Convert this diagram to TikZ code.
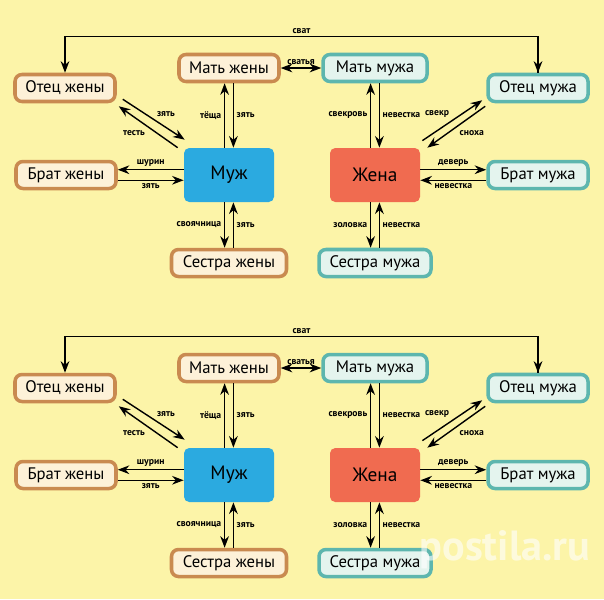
\documentclass[tikz,border=0pt]{standalone}
\usepackage{fontspec}
\setmainfont{PT Sans}
\usetikzlibrary{arrows.meta}
\tikzset{>=Stealth}
\definecolor{bg}{HTML}{FCF4A8}
\definecolor{brownline}{HTML}{C98A50}
\definecolor{brownfill}{HTML}{FDF1D8}
\definecolor{tealline}{HTML}{5DB6AE}
\definecolor{tealfill}{HTML}{E4F4EE}
\definecolor{husband}{HTML}{2BAAE0}
\definecolor{wife}{HTML}{F06B50}
\tikzset{
  wifeside/.style={draw=brownline,fill=brownfill,line width=2pt,rounded corners=4pt,
    minimum width=100*0.02cm,minimum height=27*0.02cm,font=\fontsize{9.5}{10}\selectfont},
  husbandside/.style={wifeside,draw=tealline,fill=tealfill},
  person/.style={rounded corners=3pt,minimum width=90*0.02cm,minimum height=54*0.02cm,
    font=\fontsize{11}{12}\selectfont},
  rel/.style={font=\bfseries\fontsize{5.5}{6}\selectfont,inner sep=1.5pt},
  link/.style={thick,->}
}
\begin{document}
\begin{tikzpicture}[x=0.02cm,y=-0.02cm]
\fill[bg] (0,0) rectangle (604,599);
\useasboundingbox (0,0) rectangle (604,599);

\foreach \p/\dy in {a/0,b/300}{
\begin{scope}[shift={(0,\dy)}]
% boxes
\node[wifeside] (\p-oz) at (65,88) {Отец жены};
\node[wifeside] (\p-mz) at (229,68) {Мать жены};
\node[wifeside] (\p-bz) at (66,175) {Брат жены};
\node[wifeside,minimum width=115*0.02cm] (\p-sz) at (229,263) {Сестра жены};
\node[husbandside,minimum width=104*0.02cm] (\p-mm) at (375,68) {Мать мужа};
\node[husbandside] (\p-om) at (538,88) {Отец мужа};
\node[husbandside] (\p-bm) at (538,175) {Брат мужа};
\node[husbandside,minimum width=112*0.02cm] (\p-sm) at (375,263) {Сестра мужа};
\node[person,fill=husband] (\p-muzh) at (229,175) {Муж};
\node[person,fill=wife] (\p-zh) at (375,175) {Жена};

% fathers
\draw[link] (\p-om.north) -- ++(0,-36) -| node[rel,pos=0.25,above] {сват} (\p-oz.north);
\draw[link] (\p-oz.north) ++(0,-36) -| (\p-om.north);
\draw[thick,<->] (\p-mz) -- node[rel,above] {сватья} (\p-mm);

% wife's side
\draw[link] ([xshift=-2.5pt]\p-muzh.north) -- node[rel,left] {тёща} ([xshift=-2.5pt]\p-mz.south);
\draw[link] ([xshift=2.5pt]\p-mz.south) -- node[rel,right] {зять} ([xshift=2.5pt]\p-muzh.north);
\draw[link] ([shift={(6,-4)}]\p-oz.south east) -- node[rel,above right] {зять} ([shift={(1,-8)}]\p-muzh.north west);
\draw[link] ([shift={(-6,0)}]\p-muzh.north west) -- node[rel,below left] {тесть} ([shift={(2,3)}]\p-oz.south east);
\draw[link] ([yshift=3pt]\p-muzh.west) -- node[rel,above] {шурин} ([yshift=3pt]\p-bz.east);
\draw[link] ([yshift=-3pt]\p-bz.east) -- node[rel,below] {зять} ([yshift=-3pt]\p-muzh.west);
\draw[link] ([xshift=-2.5pt]\p-muzh.south) -- node[rel,left] {своячница} ([xshift=-2.5pt]\p-sz.north);
\draw[link] ([xshift=2.5pt]\p-sz.north) -- node[rel,right] {зять} ([xshift=2.5pt]\p-muzh.south);

% husband's side
\draw[link] ([xshift=-2.5pt]\p-zh.north) -- node[rel,left] {свекровь} ([xshift=-2.5pt]\p-mm.south);
\draw[link] ([xshift=2.5pt]\p-mm.south) -- node[rel,right] {невестка} ([xshift=2.5pt]\p-zh.north);
\draw[link] ([shift={(2,-7)}]\p-zh.north east) -- node[rel,above left] {свекр} ([shift={(-4,-3)}]\p-om.south west);
\draw[link] ([shift={(-1,3)}]\p-om.south west) -- node[rel,below right] {сноха} ([shift={(7,0)}]\p-zh.north east);
\draw[link] ([yshift=3pt]\p-zh.east) -- node[rel,above] {деверь} ([yshift=3pt]\p-bm.west);
\draw[link] ([yshift=-3pt]\p-bm.west) -- node[rel,below] {невестка} ([yshift=-3pt]\p-zh.east);
\draw[link] ([xshift=-2.5pt]\p-zh.south) -- node[rel,left] {золовка} ([xshift=-2.5pt]\p-sm.north);
\draw[link] ([xshift=2.5pt]\p-sm.north) -- node[rel,right] {невестка} ([xshift=2.5pt]\p-zh.south);
\end{scope}
}

\node[white,opacity=0.6,font=\bfseries\fontsize{24}{24}\selectfont] (mark) at (505,550) {postila.ru};
\end{tikzpicture}
\end{document}
